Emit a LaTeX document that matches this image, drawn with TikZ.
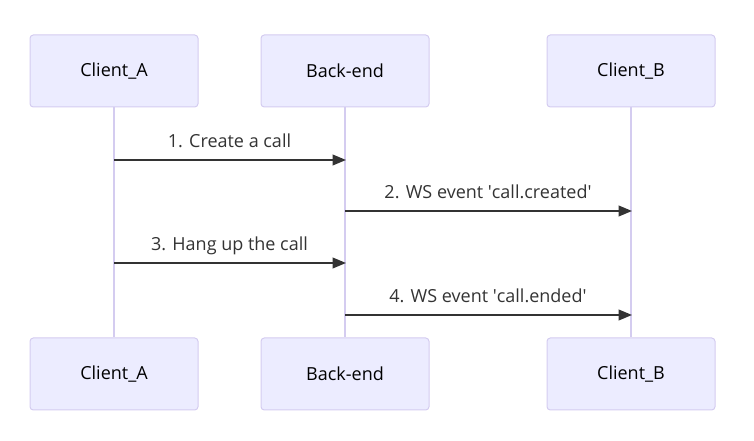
\documentclass[tikz,border=0pt]{standalone}
\usepackage{fontspec}
\setmainfont{Open Sans}
\usetikzlibrary{arrows.meta}
\definecolor{actfill}{HTML}{ECECFF}
\definecolor{actdraw}{HTML}{D4CCF0}
\definecolor{msg}{HTML}{333333}
\begin{document}
\begin{tikzpicture}[x=0.75pt,y=-0.75pt,
  actor/.style={draw=actdraw,fill=actfill,line width=0.75pt,rounded corners=2.5pt,minimum width=168*0.75pt,minimum height=72*0.75pt,font=\fontsize{13.5}{16}\selectfont,text=black},
  life/.style={draw=actdraw,line width=1.2pt},
  msgline/.style={draw=msg,line width=1.3pt,-{Triangle[length=10pt,width=8pt]}},
  lbl/.style={font=\fontsize{13.5}{16}\selectfont,text=msg,anchor=base}]
\useasboundingbox (0,0) rectangle (754,441);
\node[actor] (a1) at (114,71) {Client\_A};
\node[actor] (b1) at (345,71) {Back-end};
\node[actor] (c1) at (631,71) {Client\_B};
\node[actor] (a2) at (114,374) {Client\_A};
\node[actor] (b2) at (345,374) {Back-end};
\node[actor] (c2) at (631,374) {Client\_B};
\draw[life] (a1) -- (a2);
\draw[life] (b1) -- (b2);
\draw[life] (c1) -- (c2);
\coordinate (m1s) at (114,160); \coordinate (m1e) at (346,160);
\coordinate (m2s) at (345,211); \coordinate (m2e) at (632,211);
\coordinate (m3s) at (114,263); \coordinate (m3e) at (346,263);
\coordinate (m4s) at (345,315); \coordinate (m4e) at (632,315);
\draw[msgline] (m1s) -- (m1e);
\draw[msgline] (m2s) -- (m2e);
\draw[msgline] (m3s) -- (m3e);
\draw[msgline] (m4s) -- (m4e);
\node[lbl] (l1) at (229.5,148) {1. Create a call};
\node[lbl] (l2) at (488,199) {2. WS event \textquotesingle call.created\textquotesingle};
\node[lbl] (l3) at (229.5,251) {3. Hang up the call};
\node[lbl] (l4) at (488,303) {4. WS event \textquotesingle call.ended\textquotesingle};
\end{tikzpicture}
\end{document}
